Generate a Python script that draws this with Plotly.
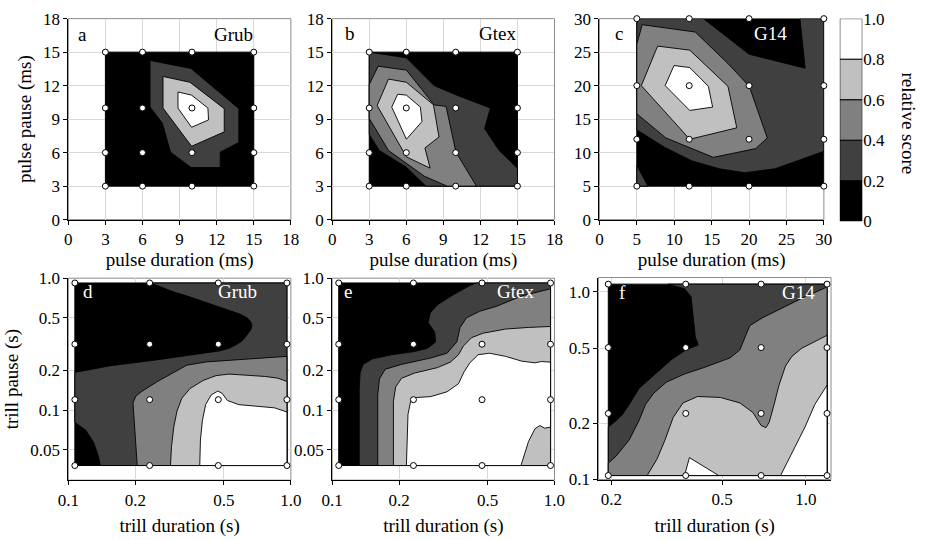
import plotly.graph_objects as go

FONT = "Liberation Serif, Times New Roman, serif"
BAND_FILL = {0.2: "#404040", 0.4: "#808080", 0.6: "#c0c0c0", 0.8: "#ffffff"}
BAND_EDGES = [0.0, 0.2, 0.4, 0.6, 0.8, 1.0]
BAND_COLORS = ["#000000", "#404040", "#808080", "#c0c0c0", "#ffffff"]
SCALE_LABELS = ["0", "0.2", "0.4", "0.6", "0.8", "1.0"]

# ---------------- stimulus grids (tested parameter combinations) ----------------
pulse_dur_grub = [3, 6, 10, 15]
pulse_pause_grub = [3, 6, 10, 15]
pulse_dur_gtex = [3, 6, 10, 15]
pulse_pause_gtex = [3, 6, 10, 15]
pulse_dur_g14 = [5, 12, 20, 30]
pulse_pause_g14 = [5, 12, 20, 30]
trill_dur_grub = [0.107, 0.232, 0.472, 0.96]
trill_pause_grub = [0.038, 0.12, 0.316, 0.92]
trill_dur_gtex = [0.107, 0.232, 0.472, 0.96]
trill_pause_gtex = [0.038, 0.12, 0.316, 0.92]
trill_dur_g14 = [0.195, 0.37, 0.69, 1.19]
trill_pause_g14 = [0.105, 0.225, 0.505, 1.10]

# ---------------- iso-score outlines (relative score >= level) ----------------
# a: Grub, pulse parameters
a_02_x = [6.61, 9.92, 13.79, 13.79, 12.29, 12.29, 9.92, 8.26, 7.61, 6.61]
a_02_y = [14.26, 13.54, 9.94, 6.91, 6.05, 4.67, 4.67, 6.05, 8.64, 10.08]
a_06_x = [7.66, 9.84, 12.61, 12.61, 9.97, 7.66]
a_06_y = [12.82, 12.30, 9.94, 7.86, 6.57, 9.99]
a_08_x = [8.87, 9.97, 11.29, 11.34, 9.97, 8.87]
a_08_y = [11.43, 11.15, 9.99, 8.93, 8.27, 9.99]

# b: Gtex, pulse parameters
b_02_x = [3, 6.01, 8.25, 10.09, 12.81, 12.34, 13.52, 15, 15, 7.59, 6.01, 3.82, 3]
b_02_y = [15, 14.49, 12.01, 11.15, 9.99, 8.15, 6.19, 4.61, 3, 3, 4.69, 6.19, 7.63]
b_04_x = [3.72, 6.01, 8.25, 9.22, 10.02, 11.68, 9.30, 7.46, 6.01, 4.56, 3, 3]
b_04_y = [13.74, 13.39, 10.28, 10.14, 6.05, 3, 3, 3.89, 5.04, 6.19, 9.07, 12.10]
b_06_x = [4.56, 6.01, 8.20, 8.65, 7.51, 7.93, 6.01, 3.64]
b_06_y = [12.59, 12.30, 10.28, 7.40, 6.42, 4.61, 5.62, 10.22]
b_08_x = [5.30, 6.01, 7.14, 7.27, 6.01, 4.82]
b_08_y = [11.23, 11.15, 10.08, 8.78, 7.20, 10.08]

# c: G14, pulse parameters
c_02_x = [5, 13.9, 20.0, 27.5, 26.8, 30, 30, 23.5, 19.4, 16.0, 12.3, 8.7, 5]
c_02_y = [30, 30, 24.7, 22.6, 30, 30, 10.2, 7.6, 7.0, 7.6, 8.8, 10.8, 13.4]
c_02b_x = [5, 6.5, 5]
c_02b_y = [5, 5, 8.1]
c_04_x = [5.72, 12.81, 17.18, 20.03, 22.43, 20.9, 15.22, 8.88, 5, 5]
c_04_y = [29.1, 28.0, 23.3, 19.9, 12.2, 10.6, 9.3, 12.2, 15.8, 26.2]
c_06_x = [7.78, 12.07, 17.18, 18.36, 12.07, 5.6]
c_06_y = [25.9, 25.3, 19.9, 13.7, 12.0, 20.0]
c_08_x = [9.97, 12.07, 14.56, 15.13, 12.07, 8.79]
c_08_y = [23.0, 22.7, 19.9, 16.8, 16.3, 20.0]

# d: Grub, trill parameters
d_02_x = [0.235, 0.96, 0.96, 0.1395, 0.1363, 0.1305, 0.1199, 0.107, 0.107, 0.152, 0.243, 0.352,
          0.477, 0.530, 0.564, 0.605, 0.635, 0.660, 0.668, 0.660, 0.635, 0.590, 0.528, 0.450,
          0.390, 0.340, 0.298, 0.262]
d_02_y = [0.92, 0.92, 0.038, 0.038, 0.0448, 0.0561, 0.0702, 0.0808, 0.193, 0.216, 0.239, 0.260,
          0.281, 0.295, 0.311, 0.335, 0.374, 0.405, 0.436, 0.470, 0.501, 0.535, 0.570, 0.625,
          0.682, 0.735, 0.785, 0.850]
d_04_x = [0.204, 0.201, 0.197, 0.1953, 0.2008, 0.2126, 0.2515, 0.2977, 0.3406, 0.4169, 0.5837, 0.96, 0.96]
d_04_y = [0.038, 0.0593, 0.093, 0.1132, 0.127, 0.1377, 0.1648, 0.1929, 0.219, 0.232, 0.2415, 0.2555, 0.038]
d_06_x = [0.2877, 0.2908, 0.2977, 0.3078, 0.3237, 0.3523, 0.403, 0.4611, 0.5275, 0.6243, 0.7638, 0.874, 0.96, 0.96]
d_06_y = [0.038, 0.053, 0.0743, 0.0983, 0.1231, 0.1457, 0.1677, 0.1826, 0.1875, 0.1845, 0.180, 0.1747, 0.1648, 0.038]
d_08_x = [0.3896, 0.3923, 0.4002, 0.414, 0.4383, 0.4689, 0.4898, 0.5187, 0.5837, 0.7143, 0.8453, 0.96, 0.96]
d_08_y = [0.038, 0.0593, 0.0831, 0.110, 0.1302, 0.1393, 0.1347, 0.1183, 0.110, 0.107, 0.104, 0.0967, 0.038]

# e: Gtex, trill parameters
e_02_x = [0.1323, 0.1323, 0.1336, 0.1378, 0.1514, 0.1853, 0.2346, 0.2685, 0.2921, 0.2891, 0.2703,
          0.2759, 0.2971, 0.3516, 0.4162, 0.4453, 0.96, 0.96]
e_02_y = [0.038, 0.1457, 0.1929, 0.222, 0.2443, 0.2627, 0.278, 0.294, 0.329, 0.3893, 0.4608,
          0.545, 0.6275, 0.751, 0.879, 0.92, 0.92, 0.038]
e_02b_x = [0.107, 0.1125, 0.107]
e_02b_y = [0.3478, 0.316, 0.302]
e_04_x = [0.1603, 0.1603, 0.1631, 0.1733, 0.2051, 0.2777, 0.3287, 0.3637, 0.3762, 0.4024, 0.4607,
          0.545, 0.7139, 0.96, 0.96]
e_04_y = [0.038, 0.1302, 0.1724, 0.2041, 0.222, 0.2484, 0.270, 0.329, 0.4233, 0.501, 0.561,
          0.610, 0.734, 0.831, 0.038]
e_06_x = [0.1885, 0.1885, 0.193, 0.2051, 0.2346, 0.2971, 0.34, 0.3699, 0.389, 0.4233, 0.4764,
          0.603, 0.7637, 0.96, 0.96]
e_06_y = [0.038, 0.1164, 0.1498, 0.1743, 0.1908, 0.2099, 0.2309, 0.2627, 0.3057, 0.3538, 0.3827,
          0.4117, 0.4233, 0.4306, 0.038]
e_08_x = [0.2157, 0.2171, 0.2193, 0.2253, 0.2387, 0.2777, 0.3287, 0.3699, 0.392, 0.4162, 0.4529,
          0.5095, 0.603, 0.7139, 0.8169, 0.8738, 0.96, 0.96, 0.9036, 0.8593, 0.8169, 0.7637, 0.7067]
e_08_y = [0.038, 0.0593, 0.093, 0.1164, 0.1245, 0.1266, 0.1377, 0.1585, 0.195, 0.2283, 0.2627,
          0.270, 0.2555, 0.2348, 0.2283, 0.2335, 0.2309, 0.0743, 0.073, 0.0764, 0.0722, 0.0577, 0.038]

# f: G14, trill parameters
f_02_x = [0.3203, 1.19, 1.19, 0.195, 0.195, 0.2082, 0.2197, 0.2318, 0.2514, 0.2838, 0.329, 0.3713,
          0.4102, 0.4004, 0.3972, 0.394, 0.3866, 0.3664]
f_02_y = [1.10, 1.10, 0.105, 0.105, 0.1904, 0.206, 0.2229, 0.251, 0.3058, 0.358, 0.4363, 0.491,
          0.521, 0.575, 0.635, 0.729, 0.9425, 1.040]
f_04_x = [0.195, 0.2082, 0.2318, 0.2514, 0.2653, 0.2838, 0.316, 0.3664, 0.4305, 0.534, 0.579, 0.603,
          0.628, 0.699, 0.8441, 0.992, 1.19, 1.19, 0.195]
f_04_y = [0.1223, 0.1334, 0.1626, 0.206, 0.251, 0.2883, 0.3309, 0.3652, 0.3953, 0.445, 0.491, 0.575,
          0.6607, 0.729, 0.837, 0.9425, 1.061, 0.105, 0.105]
f_06_x = [0.2689, 0.2915, 0.3118, 0.3335, 0.3616, 0.4081, 0.4927, 0.579, 0.645, 0.6897, 0.7181,
          0.7378, 0.7683, 0.7998, 0.8441, 0.8906, 0.9656, 1.0755, 1.19, 1.19]
f_06_y = [0.105, 0.1282, 0.1626, 0.2143, 0.256, 0.277, 0.2738, 0.256, 0.2274, 0.1941, 0.1889,
          0.2019, 0.251, 0.3181, 0.403, 0.4538, 0.5008, 0.542, 0.5867, 0.105]
f_08_x = [0.3664, 0.3814, 0.486]
f_08_y = [0.105, 0.1308, 0.105]
f_08b_x = [0.8106, 0.8906, 0.992, 1.0755, 1.19, 1.19]
f_08b_y = [0.105, 0.1388, 0.1904, 0.251, 0.3181, 0.105]

panels = [
    dict(n=1, gx=pulse_dur_grub, gy=pulse_pause_grub, letter="a", name="Grub", lc="black", nc="black",
         iso=[(0.2, a_02_x, a_02_y), (0.6, a_06_x, a_06_y), (0.8, a_08_x, a_08_y)]),
    dict(n=2, gx=pulse_dur_gtex, gy=pulse_pause_gtex, letter="b", name="Gtex", lc="black", nc="black",
         iso=[(0.2, b_02_x, b_02_y), (0.4, b_04_x, b_04_y), (0.6, b_06_x, b_06_y), (0.8, b_08_x, b_08_y)]),
    dict(n=3, gx=pulse_dur_g14, gy=pulse_pause_g14, letter="c", name="G14", lc="black", nc="white",
         iso=[(0.2, c_02_x, c_02_y), (0.2, c_02b_x, c_02b_y), (0.4, c_04_x, c_04_y),
              (0.6, c_06_x, c_06_y), (0.8, c_08_x, c_08_y)]),
    dict(n=4, gx=trill_dur_grub, gy=trill_pause_grub, letter="d", name="Grub", lc="white", nc="white",
         iso=[(0.2, d_02_x, d_02_y), (0.4, d_04_x, d_04_y), (0.6, d_06_x, d_06_y), (0.8, d_08_x, d_08_y)]),
    dict(n=5, gx=trill_dur_gtex, gy=trill_pause_gtex, letter="e", name="Gtex", lc="white", nc="white",
         iso=[(0.2, e_02_x, e_02_y), (0.2, e_02b_x, e_02b_y), (0.4, e_04_x, e_04_y),
              (0.6, e_06_x, e_06_y), (0.8, e_08_x, e_08_y)]),
    dict(n=6, gx=trill_dur_g14, gy=trill_pause_g14, letter="f", name="G14", lc="white", nc="white",
         iso=[(0.2, f_02_x, f_02_y), (0.4, f_04_x, f_04_y), (0.6, f_06_x, f_06_y),
              (0.8, f_08_x, f_08_y), (0.8, f_08b_x, f_08b_y)]),
]

# panel placement (fractions of the figure) and label positions inside each panel
domains = {
    1: ([0.0634, 0.3096], [0.5957, 0.9815]),
    2: ([0.3553, 0.6012], [0.5957, 0.9815]),
    3: ([0.6509, 0.8992], [0.5957, 0.9815]),
    4: ([0.0634, 0.3096], [0.0957, 0.4833]),
    5: ([0.3553, 0.6012], [0.0957, 0.4833]),
    6: ([0.6498, 0.9071], [0.0969, 0.4846]),
}
label_pos = {1: (0.064, 0.744, 0.92), 2: (0.078, 0.742, 0.928), 3: (0.087, 0.763, 0.925),
             4: (0.09, 0.761, 0.932), 5: (0.072, 0.824, 0.932), 6: (0.102, 0.86, 0.928)}

fig = go.Figure()
annotations = []
shapes = []

for p in panels:
    n = p["n"]
    xa = "x" if n == 1 else f"x{n}"
    ya = "y" if n == 1 else f"y{n}"
    x0, x1 = p["gx"][0], p["gx"][-1]
    y0, y1 = p["gy"][0], p["gy"][-1]
    # lowest band over the whole sampled area
    fig.add_trace(go.Scatter(x=[x0, x1, x1, x0, x0], y=[y0, y0, y1, y1, y0], mode="lines",
                             fill="toself", fillcolor="#000000", line=dict(color="black", width=1),
                             xaxis=xa, yaxis=ya, hoverinfo="skip", showlegend=False))
    for level, xs, ys in sorted(p["iso"], key=lambda t: t[0]):
        fig.add_trace(go.Scatter(x=list(xs) + [xs[0]], y=list(ys) + [ys[0]], mode="lines",
                                 fill="toself", fillcolor=BAND_FILL[level],
                                 line=dict(color="black", width=0.9),
                                 xaxis=xa, yaxis=ya, hoverinfo="skip", showlegend=False))
    px = [gx for gy in p["gy"] for gx in p["gx"]]
    py = [gy for gy in p["gy"] for gx in p["gx"]]
    fig.add_trace(go.Scatter(x=px, y=py, mode="markers",
                             marker=dict(size=6, color="white", line=dict(color="black", width=1)),
                             xaxis=xa, yaxis=ya, hoverinfo="skip", showlegend=False, cliponaxis=False))
    lx, nx, ly = label_pos[n]
    annotations.append(dict(text=p["letter"], x=lx, y=ly, xref=f"{xa} domain", yref=f"{ya} domain",
                            showarrow=False, font=dict(family=FONT, size=19, color=p["lc"]),
                            xanchor="center", yanchor="middle"))
    annotations.append(dict(text=p["name"], x=nx, y=ly, xref=f"{xa} domain", yref=f"{ya} domain",
                            showarrow=False, font=dict(family=FONT, size=19, color=p["nc"]),
                            xanchor="center", yanchor="middle"))
    shapes.append(dict(type="rect", xref=f"{xa} domain", yref=f"{ya} domain", x0=0, x1=1, y0=0, y1=1,
                       line=dict(color="#8c8c8c", width=1), layer="below"))

tick_font = dict(family=FONT, size=17, color="black")
title_font = dict(family=FONT, size=19, color="black")
common = dict(ticks="outside", ticklen=4, tickcolor="black", showline=True, linecolor="black",
              linewidth=1, mirror=False, showgrid=True, gridcolor="#d9d9d9", gridwidth=1,
              zeroline=False, tickfont=tick_font)

layout_axes = {}
for n in range(1, 7):
    xk = "xaxis" if n == 1 else f"xaxis{n}"
    yk = "yaxis" if n == 1 else f"yaxis{n}"
    xa = "x" if n == 1 else f"x{n}"
    ya = "y" if n == 1 else f"y{n}"
    dx, dy = domains[n]
    xd = dict(common, domain=dx, anchor=ya)
    yd = dict(common, domain=dy, anchor=xa)
    if n in (1, 2):
        xd.update(range=[0, 18], tickvals=list(range(0, 19, 3)))
        yd.update(range=[0, 18], tickvals=list(range(0, 19, 3)))
    elif n == 3:
        xd.update(range=[0, 30], tickvals=list(range(0, 31, 5)))
        yd.update(range=[0, 30], tickvals=list(range(0, 31, 5)))
    elif n in (4, 5):
        xd.update(type="log", range=[-1, 0], tickvals=[0.1, 0.2, 0.5, 1.0],
                  ticktext=["0.1", "0.2", "0.5", "1.0"])
        yd.update(type="log", range=[-1.531, 0], tickvals=[0.05, 0.1, 0.2, 0.5, 1.0],
                  ticktext=["0.05", "0.1", "0.2", "0.5", "1.0"])
    else:
        xd.update(type="log", range=[-0.7454, 0.0899], tickvals=[0.2, 0.5, 1.0],
                  ticktext=["0.2", "0.5", "1.0"])
        yd.update(type="log", range=[-1, 0.0766], tickvals=[0.1, 0.2, 0.5, 1.0],
                  ticktext=["0.1", "0.2", "0.5", "1.0"])
    if n <= 3:
        xd["title"] = dict(text="pulse duration (ms)", font=title_font, standoff=1)
    else:
        xd["title"] = dict(text="trill duration (s)", font=title_font, standoff=10)
    if n == 1:
        yd["title"] = dict(text="pulse pause (ms)", font=title_font, standoff=6)
    if n == 4:
        yd["title"] = dict(text="trill pause (s)", font=title_font, standoff=6)
    layout_axes[xk] = xd
    layout_axes[yk] = yd

# score scale: one stacked segment per band
fig.add_trace(go.Bar(x=[0] * 5, y=[BAND_EDGES[i + 1] - BAND_EDGES[i] for i in range(5)],
                     base=BAND_EDGES[:-1], width=1, marker=dict(color=BAND_COLORS,
                     line=dict(color="black", width=1)),
                     xaxis="x7", yaxis="y7", hoverinfo="skip", showlegend=False))
layout_axes["xaxis7"] = dict(domain=[0.9168, 0.9417], range=[-0.5, 0.5], anchor="y7",
                             showticklabels=False, showgrid=False, zeroline=False, showline=False)
layout_axes["yaxis7"] = dict(domain=[0.5926, 0.9815], range=[0, 1], anchor="x7", side="right",
                             tickvals=BAND_EDGES, ticktext=SCALE_LABELS, ticks="", showgrid=False,
                             zeroline=False, showline=False, tickfont=tick_font)
annotations.append(dict(text="relative score", x=0.9925, y=0.78, xref="paper", yref="paper",
                        textangle=90, showarrow=False, font=title_font,
                        xanchor="center", yanchor="middle"))

fig.update_layout(width=926, height=540, margin=dict(l=0, r=0, t=0, b=0),
                  paper_bgcolor="white", plot_bgcolor="white",
                  font=dict(family=FONT), annotations=annotations, shapes=shapes,
                  showlegend=False, **layout_axes)
fig.write_html("out.html")
